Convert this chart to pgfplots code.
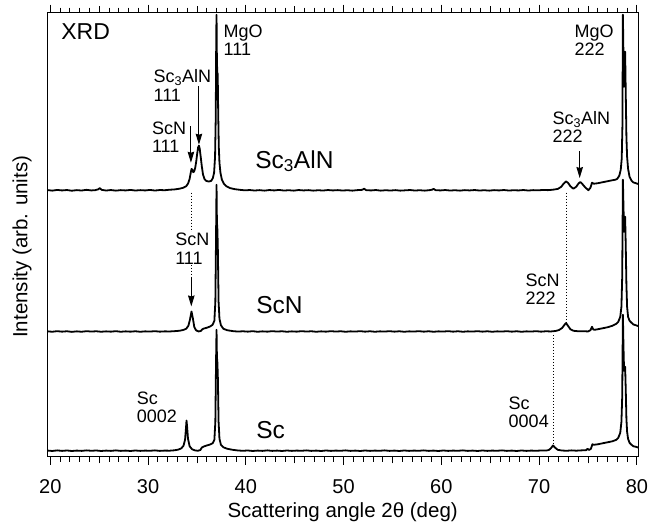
\documentclass[border=0pt]{standalone}
\usepackage{fontspec}
\setmainfont{Liberation Sans}
\usepackage{pgfplots}
\pgfplotsset{compat=1.18}
\usetikzlibrary{arrows.meta}
\newcommand{\annot}{\fontsize{18}{18.5}\selectfont}
\newcommand{\trace}{\fontsize{24.5}{25}\selectfont}
\begin{document}
\begin{tikzpicture}
\begin{axis}[
  scale only axis, width=591pt, height=444pt,
  xmin=19.73, xmax=80.2, ymin=0, ymax=444,
  axis line style={line width=0.8pt},
  ytick=\empty,
  xtick={20,30,...,80},
  minor x tick num=9,
  extra x ticks={25,35,45,55,65,75},
  extra x tick labels={},
  extra x tick style={major tick length=6.5pt},
  tick align=outside,
  major tick length=8pt, minor tick length=5pt,
  tick style={line width=0.8pt, black},
  xtick pos=both,
  /pgf/number format/assume math mode=true,
  xticklabel style={font=\fontsize{20}{20}\selectfont, anchor=north, inner sep=0pt, yshift=-15pt},
  xlabel={Scattering angle 2θ (deg)},
  ylabel={Intensity (arb. units)},
  xlabel style={font=\fontsize{20.5}{20.5}\selectfont, at={(axis description cs:0.499,-0.1245)}, anchor=center},
  ylabel style={font=\fontsize{20.5}{20.5}\selectfont, at={(axis description cs:-0.0435,0.473)}, anchor=center},
]
% ---- Sc3AlN (top) ----
\addplot[black, line width=1.8pt, line join=round] coordinates {
(19.75,266.6) (20.2,266.1) (20.7,266.8) (21.2,266.3) (21.7,266.7) (22.2,266.0) (22.7,266.6) (23.2,266.2) (23.7,266.9) (24.2,266.3) (24.6,266.6) (24.9,267.4) (25.05,268.6) (25.25,266.9) (25.7,266.2) (26.2,266.7) (26.7,266.1) (27.2,266.6) (27.7,266.3) (28.2,266.8) (28.7,266.2) (29.2,266.6) (29.7,266.3) (30.2,266.8) (30.7,266.2) (31.2,266.7) (31.7,266.5) (32.2,267.0) (32.7,267.3) (33.2,268.0) (33.6,269.0) (33.9,270.5) (34.1,273.5) (34.25,278) (34.38,285) (34.45,287.8) (34.52,287) (34.62,284.5) (34.72,285.5) (34.82,289) (34.92,295) (35.02,303) (35.12,309.5) (35.2,311) (35.28,308) (35.38,300) (35.5,290) (35.62,282) (35.78,277.5) (35.95,275.8) (36.2,275.2) (36.45,275.8) (36.62,278.5) (36.75,284) (36.85,300) (36.92,340) (36.97,420) (37.0,442) (37.04,395) (37.08,384) (37.12,383) (37.17,345) (37.23,310) (37.3,294) (37.4,284) (37.55,277) (37.75,273) (38.0,270.5) (38.4,268.6) (38.9,267.5) (39.4,266.9) (39.9,266.4)
(40.4,266.7) (40.9,266.2) (41.4,266.6) (41.9,266.1) (42.4,266.7) (42.9,266.3) (43.4,266.8) (43.9,266.2) (44.4,266.5) (44.9,266.1) (45.4,266.7) (45.9,266.3) (46.4,266.6) (46.9,266.1) (47.4,266.5) (47.9,266.2) (48.4,266.7) (48.9,266.3) (49.4,266.6) (49.9,266.2) (50.4,266.5) (50.9,266.1) (51.4,266.6) (51.9,266.9) (52.1,268.0) (52.3,266.6) (52.8,266.3) (53.3,266.7) (53.8,266.1) (54.3,266.5) (54.8,266.2) (55.3,266.6) (55.8,266.1) (56.3,266.4) (56.8,266.7) (57.3,266.2) (57.8,266.5) (58.3,266.1) (58.8,266.6) (59.05,267.0) (59.2,267.9) (59.4,266.6) (59.9,266.3) (60.4,266.7) (60.9,266.2) (61.4,266.5) (61.9,266.1) (62.4,266.6) (62.9,266.3) (63.4,266.7) (63.9,266.2) (64.4,266.5) (64.9,266.1) (65.4,266.6) (65.9,266.3) (66.4,266.7) (66.9,266.2) (67.4,266.5) (67.9,266.3) (68.4,266.7) (68.9,266.2) (69.4,266.6) (69.9,266.4) (70.4,266.8) (70.9,266.6) (71.4,267.0) (71.9,267.8) (72.25,269.8) (72.5,273.0) (72.75,275.3) (72.95,274.0) (73.2,270.5) (73.5,268.0) (73.8,270.0) (74.05,273.5) (74.22,274.7) (74.4,273.0) (74.7,269.5) (75.04,266.5) (75.25,269.0) (75.41,274.0) (75.6,273.0) (76.0,273.5) (76.5,274.5) (77.0,275.5) (77.5,276.5) (77.8,277.0) (78.0,278.0) (78.2,281.0) (78.35,287.0) (78.45,298.0) (78.52,330.0) (78.57,442.0) (78.63,400.0) (78.69,370.0) (78.75,395.0) (78.8,405.0) (78.86,365.0) (78.93,320.0) (79.0,300.0) (79.1,288.0) (79.25,280.0) (79.45,276.0) (79.64,274.3) (79.9,273.5) (80.2,272.5)
};
% ---- ScN (middle) ----
\addplot[black, line width=1.8pt, line join=round] coordinates {
(19.75,125.4) (20.2,125.0) (20.7,125.6) (21.2,125.1) (21.7,125.5) (22.2,124.9) (22.7,125.4) (23.2,125.0) (23.7,125.6) (24.2,125.2) (24.7,125.5) (25.2,125.0) (25.7,125.4) (26.2,125.1) (26.7,125.6) (27.2,125.0) (27.7,125.4) (28.2,125.1) (28.7,125.5) (29.2,125.0) (29.7,125.4) (30.2,125.2) (30.7,125.6) (31.2,125.1) (31.7,125.4) (32.2,125.3) (32.7,125.6) (33.2,126.0) (33.6,126.8) (33.9,128.0) (34.12,131.0) (34.28,137.0) (34.44,145.3) (34.58,138.5) (34.72,130.0) (34.9,126.5) (35.15,125.3) (35.4,125.8) (35.55,127.5) (35.7,128.2) (36.0,129.0) (36.35,130.3) (36.6,132.0) (36.78,136.0) (36.88,155.0) (36.95,220.0) (37.0,272.0) (37.04,235.0) (37.09,227.0) (37.14,205.0) (37.21,155.0) (37.3,138.0) (37.45,131.5) (37.7,128.0) (38.1,126.5) (38.7,125.6) (39.2,125.2) (39.7,125.5)
(40.2,125.1) (40.7,125.6) (41.2,125.0) (41.7,125.4) (42.2,125.1) (42.7,125.6) (43.2,125.2) (43.7,125.5) (44.2,125.0) (44.7,125.4) (45.2,125.1) (45.7,125.6) (46.2,125.2) (46.7,125.5) (47.2,125.0) (47.7,125.4) (48.2,125.1) (48.7,125.6) (49.2,125.2) (49.7,125.5) (50.2,125.0) (50.7,125.4) (51.2,125.2) (51.7,125.6) (52.2,125.1) (52.7,125.5) (53.2,125.0) (53.7,125.4) (54.2,125.2) (54.7,125.6) (55.2,125.1) (55.7,125.5) (56.2,125.0) (56.7,125.4) (57.2,125.2) (57.7,125.6) (58.2,125.1) (58.7,125.5) (59.2,125.0) (59.7,125.4) (60.2,125.2) (60.7,125.6) (61.2,125.1) (61.7,125.5) (62.2,125.0) (62.7,125.4) (63.2,125.2) (63.7,125.6) (64.2,125.1) (64.7,125.5) (65.2,125.0) (65.7,125.4) (66.2,125.2) (66.7,125.6) (67.2,125.1) (67.7,125.5) (68.2,125.0) (68.7,125.4) (69.2,125.2) (69.7,125.6) (70.2,125.1) (70.7,125.5) (71.2,125.3) (71.7,125.8) (72.05,126.8) (72.35,128.8) (72.6,132.0) (72.75,133.7) (72.95,131.0) (73.2,127.5) (73.5,126.0) (74.0,125.5) (74.5,125.6) (75.0,125.3) (75.25,126.5) (75.41,130.0) (75.55,127.2) (75.7,127.0) (76.0,127.5) (76.5,128.5) (77.0,129.5) (77.5,131.0) (77.9,133.0) (78.1,135.0) (78.3,140.0) (78.42,150.0) (78.5,180.0) (78.57,277.0) (78.63,250.0) (78.69,225.0) (78.75,235.0) (78.8,240.0) (78.86,212.0) (78.93,172.0) (79.0,150.0) (79.1,140.0) (79.25,136.0) (79.45,134.0) (79.64,132.3) (79.9,131.5) (80.2,130.5)
};
% ---- Sc (bottom) ----
\addplot[black, line width=1.8pt, line join=round] coordinates {
(19.75,6.2) (20.2,5.8) (20.7,6.4) (21.2,5.9) (21.7,6.3) (22.2,5.8) (22.7,6.2) (23.2,5.9) (23.7,6.4) (24.2,6.0) (24.7,6.3) (25.2,5.8) (25.7,6.2) (26.2,5.9) (26.7,6.4) (27.2,5.9) (27.7,6.2) (28.2,5.8) (28.7,6.3) (29.2,5.9) (29.7,6.2) (30.2,6.0) (30.7,6.4) (31.2,5.9) (31.7,6.2) (32.2,6.1) (32.7,6.5) (33.1,7.2) (33.4,8.5) (33.62,11.0) (33.78,17.0) (33.87,28.0) (33.93,36.3) (33.99,30.0) (34.08,18.0) (34.25,10.5) (34.5,7.5) (34.8,6.4) (35.1,6.0) (35.35,6.8) (35.5,9.3) (35.7,10.3) (36.0,11.3) (36.35,12.3) (36.6,13.5) (36.78,17.0) (36.88,35.0) (36.95,95.0) (37.0,127.0) (37.04,100.0) (37.09,94.0) (37.14,78.0) (37.21,35.0) (37.3,18.0) (37.45,12.0) (37.7,9.5) (38.1,8.0) (38.7,6.9) (39.2,6.3) (39.7,6.0)
(40.2,6.3) (40.7,5.8) (41.2,6.2) (41.7,5.9) (42.2,6.4) (42.7,5.9) (43.2,6.2) (43.7,5.8) (44.2,6.3) (44.7,5.9) (45.2,6.2) (45.7,6.0) (46.2,6.4) (46.7,5.9) (47.2,6.2) (47.7,5.8) (48.2,6.3) (48.7,5.9) (49.2,6.2) (49.7,6.0) (50.2,6.4) (50.7,5.9) (51.2,6.2) (51.7,5.8) (52.2,6.3) (52.7,5.9) (53.2,6.2) (53.7,6.0) (54.2,6.4) (54.7,5.9) (55.2,6.2) (55.7,5.8) (56.2,6.3) (56.7,5.9) (57.2,6.2) (57.7,6.0) (58.2,6.4) (58.7,5.9) (59.2,6.2) (59.7,5.8) (60.2,6.3) (60.7,5.9) (61.2,6.2) (61.7,6.0) (62.2,6.4) (62.7,5.9) (63.2,6.2) (63.7,5.8) (64.2,6.3) (64.7,5.9) (65.2,6.2) (65.7,6.0) (66.2,6.4) (66.7,5.9) (67.2,6.2) (67.7,5.8) (68.2,6.3) (68.7,5.9) (69.2,6.2) (69.7,6.0) (70.2,6.3) (70.7,6.2) (71.0,6.8) (71.2,8.5) (71.42,11.3) (71.65,9.0) (71.9,7.0) (72.3,6.3) (72.8,6.0) (73.3,6.4) (73.8,6.1) (74.3,6.4) (74.8,6.6) (74.95,8.0) (75.1,6.8) (75.3,8.0) (75.45,12.5) (75.6,12.0) (76.0,12.5) (76.5,13.5) (77.0,14.5) (77.5,15.5) (77.9,17.0) (78.1,19.0) (78.3,24.0) (78.42,35.0) (78.5,60.0) (78.57,142.0) (78.63,110.0) (78.69,86.0) (78.75,88.0) (78.8,90.0) (78.86,68.0) (78.93,38.0) (79.0,25.0) (79.1,18.0) (79.25,14.0) (79.45,12.0) (79.64,10.5) (79.9,10.0) (80.2,9.0)
};
% ---- dotted guide lines ----
\addplot[black, line width=0.8pt, dash pattern=on 1pt off 2pt] coordinates {(34.45,264) (34.45,179)};
\addplot[black, line width=0.8pt, dash pattern=on 1pt off 2pt] coordinates {(72.75,264) (72.75,134)};
\addplot[black, line width=0.8pt, dash pattern=on 1pt off 2pt] coordinates {(71.42,122) (71.42,12)};
% ---- arrows ----
\addplot[black, line width=0.9pt, -{Stealth[length=11pt,width=6.5pt,inset=1pt]}] coordinates {(35.2,370.3) (35.2,312)};
\addplot[black, line width=0.9pt, -{Stealth[length=11pt,width=6.5pt,inset=1pt]}] coordinates {(34.38,330.3) (34.38,294)};
\addplot[black, line width=0.9pt, -{Stealth[length=11pt,width=6.5pt,inset=1pt]}] coordinates {(34.42,179) (34.42,150.3)};
\addplot[black, line width=0.9pt, -{Stealth[length=11pt,width=6.5pt,inset=1pt]}] coordinates {(74.15,305.3) (74.15,278.7)};
% ---- labels ----
\node[anchor=north west, inner sep=0pt, font=\fontsize{23}{23}\selectfont] at (axis cs:21.1,433) {XRD};
\node[anchor=north west, inner sep=0pt, align=left, font=\annot] at (axis cs:37.71,432) {MgO\\111};
\node[anchor=north west, inner sep=0pt, align=left, font=\annot] at (axis cs:73.6,432) {MgO\\222};
\node[anchor=north west, inner sep=0pt, align=left, font=\annot] at (axis cs:30.54,387) {Sc\textsubscript{3}AlN\\111};
\node[anchor=north west, inner sep=0pt, align=left, font=\annot] at (axis cs:30.38,335.3) {ScN\\111};
\node[anchor=north west, inner sep=1pt, fill=white, align=left, font=\annot] at (axis cs:32.66,225) {ScN\\111};
\node[anchor=north west, inner sep=0pt, align=left, font=\annot] at (axis cs:71.35,345.5) {Sc\textsubscript{3}AlN\\222};
\node[anchor=north west, inner sep=0pt, align=left, font=\annot] at (axis cs:68.59,183.5) {ScN\\222};
\node[anchor=north west, inner sep=0pt, align=left, font=\annot] at (axis cs:28.84,65.3) {Sc\\0002};
\node[anchor=north west, inner sep=0pt, align=left, font=\annot] at (axis cs:66.87,60.3) {Sc\\0004};
\node[anchor=base west, inner sep=0pt, font=\trace] at (axis cs:40.95,288.7) {Sc\textsubscript{3}AlN};
\node[anchor=base west, inner sep=0pt, font=\trace] at (axis cs:41.05,143.7) {ScN};
\node[anchor=base west, inner sep=0pt, font=\trace] at (axis cs:41.05,18.7) {Sc};
\end{axis}
\path[use as bounding box] ([xshift=-47.7pt,yshift=-69.3pt]current axis.south west) rectangle ([xshift=9pt,yshift=12.7pt]current axis.north east);
\end{tikzpicture}
\end{document}
